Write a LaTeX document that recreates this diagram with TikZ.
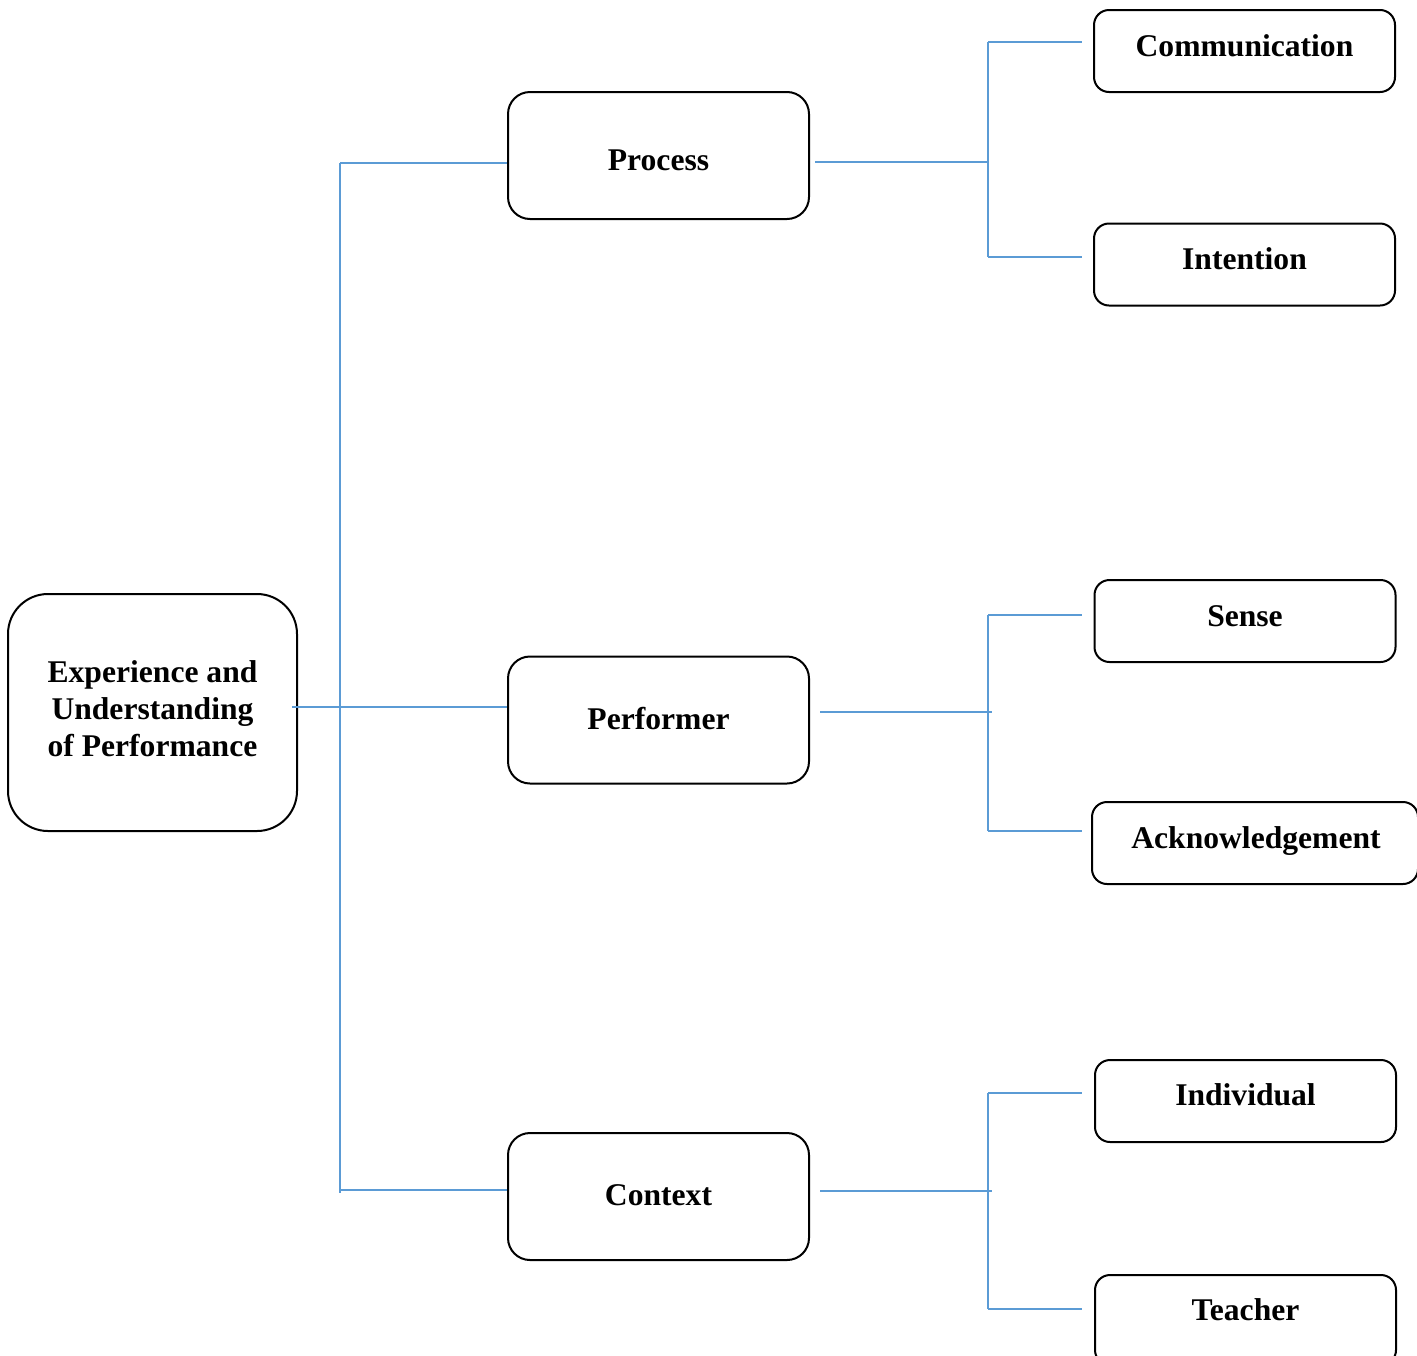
\documentclass[tikz,border=0pt]{standalone}
\usepackage{fontspec}
\setmainfont{Liberation Serif}
\begin{document}
\begin{tikzpicture}[x=0.5pt,y=-0.5pt,
  conn/.style={draw=blueline,line width=0.75pt},
  boxbase/.style={draw=black,line width=1pt,inner sep=0pt},
  mainbox/.style={boxbase,rounded corners=20pt,minimum width=144.5pt,minimum height=118.5pt},
  midbox/.style={boxbase,rounded corners=11pt,minimum width=150.5pt,minimum height=63.5pt},
  leafbox/.style={boxbase,rounded corners=7.5pt,minimum width=150.5pt,minimum height=41pt},
  lbl/.style={font=\fontsize{15.8pt}{18.5pt}\selectfont\bfseries,inner sep=0pt,anchor=base}
]
\definecolor{blueline}{HTML}{5B9BD5}
\useasboundingbox (0,0) rectangle (1417,1355);

% main box
\node[mainbox] (main) at (152.5,712.5) {};
\node[font=\fontsize{15.8pt}{18.5pt}\selectfont\bfseries,align=center,inner sep=0pt] (mainT) at (152.5,709) {Experience and\\Understanding\\of Performance};

% middle boxes
\node[midbox] (proc) at (658.5,155.5) {};
\node[lbl] (procT) at (658.5,170.5) {Process};
\node[midbox] (perf) at (658.5,720) {};
\node[lbl] (perfT) at (658.5,729.5) {Performer};
\node[midbox] (cont) at (658.5,1196.5) {};
\node[lbl] (contT) at (658.5,1205.5) {Context};

% leaf boxes
\node[leafbox] (comm) at (1244.5,51) {};
\node[lbl] (commT) at (1244.5,56.5) {Communication};
\node[leafbox] (intent) at (1244.5,264.5) {};
\node[lbl] (intentT) at (1244.5,269.5) {Intention};
\node[leafbox] (sense) at (1245,621) {};
\node[lbl] (senseT) at (1245,626.5) {Sense};
\node[leafbox,minimum width=163pt] (ack) at (1255,843) {};
\node[lbl] (ackT) at (1256,848.5) {Acknowledgement};
\node[leafbox] (indiv) at (1245.5,1101) {};
\node[lbl] (indivT) at (1245.5,1105.5) {Individual};
\node[leafbox,minimum height=45pt] (teach) at (1245.5,1320) {};
\node[lbl] (teachT) at (1245.5,1320.5) {Teacher};

% trunk coordinates
\coordinate (tA) at (340,163);
\coordinate (tB) at (340,707);
\coordinate (tC) at (340,1190);
\coordinate (tEnd) at (340,1193);
\coordinate (mStart) at (292,707);

\draw[conn] (tA) -- (tEnd);
\draw[conn] (mStart) -- (tB) -- (tB -| perf.west);
\draw[conn] (tA) -- (tA -| proc.west);
\draw[conn] (tC) -- (tC -| cont.west);

% process branch
\coordinate (pS) at (815,162);
\coordinate (pJ) at (988,162);
\coordinate (pU) at (988,42);
\coordinate (pD) at (988,257);
\draw[conn] (pS) -- (pJ);
\draw[conn] (pU) -- (pD);
\draw[conn] (pU) -- ([xshift=-5.5pt]pU -| comm.west);
\draw[conn] (pD) -- ([xshift=-5.5pt]pD -| intent.west);

% performer branch
\coordinate (fS) at (820,712);
\coordinate (fJ) at (992,712);
\coordinate (fU) at (988,615);
\coordinate (fD) at (988,831);
\draw[conn] (fS) -- (fJ);
\draw[conn] (fU) -- (fD);
\draw[conn] (fU) -- ([xshift=-6pt]fU -| sense.west);
\draw[conn] (fD) -- ([xshift=-4.5pt]fD -| ack.west);

% context branch
\coordinate (cS) at (820,1191);
\coordinate (cJ) at (992,1191);
\coordinate (cU) at (988,1093);
\coordinate (cD) at (988,1309);
\draw[conn] (cS) -- (cJ);
\draw[conn] (cU) -- (cD);
\draw[conn] (cU) -- ([xshift=-6pt]cU -| indiv.west);
\draw[conn] (cD) -- ([xshift=-6pt]cD -| teach.west);
\end{tikzpicture}
\end{document}
